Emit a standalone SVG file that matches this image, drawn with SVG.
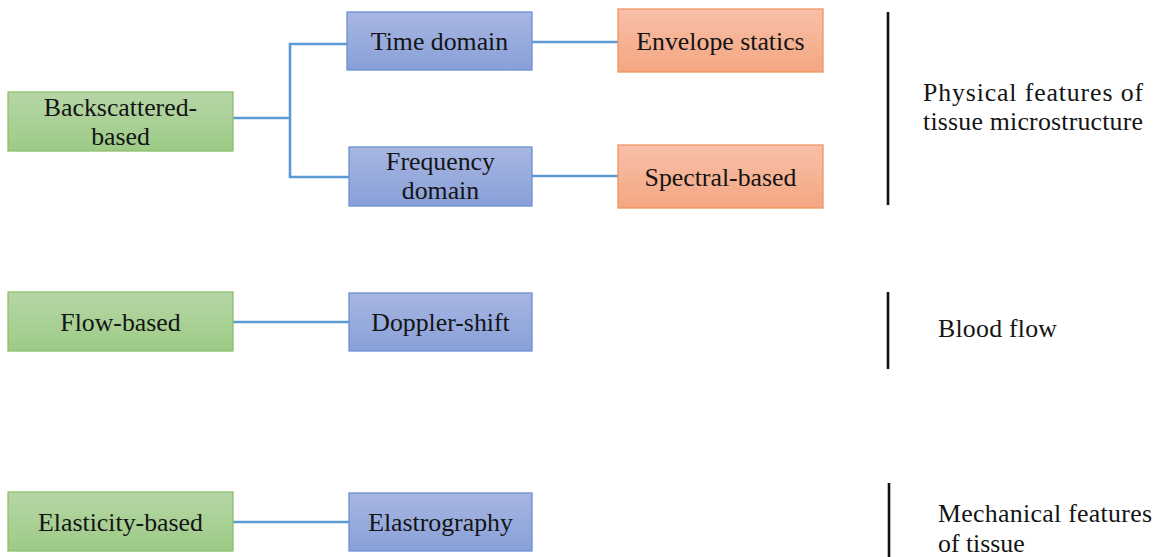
<svg xmlns="http://www.w3.org/2000/svg" width="1158" height="557" viewBox="0 0 1158 557">
  <defs>
    <linearGradient id="gGreen" x1="0" y1="0" x2="0" y2="1">
      <stop offset="0" stop-color="#b6d6a6"/>
      <stop offset="1" stop-color="#9dcb85"/>
    </linearGradient>
    <linearGradient id="gBlue" x1="0" y1="0" x2="0" y2="1">
      <stop offset="0" stop-color="#a8b6e2"/>
      <stop offset="1" stop-color="#88a0d8"/>
    </linearGradient>
    <linearGradient id="gOrange" x1="0" y1="0" x2="0" y2="1">
      <stop offset="0" stop-color="#f8c0a8"/>
      <stop offset="1" stop-color="#f4a682"/>
    </linearGradient>
    <style>
      .green { fill: url(#gGreen); stroke: #8dbf6c; stroke-width: 1.3; }
      .blue { fill: url(#gBlue); stroke: #6a8fd2; stroke-width: 1.3; }
      .orange { fill: url(#gOrange); stroke: #f0955f; stroke-width: 1.3; }
      text { font-family: 'Liberation Serif', Tinos, 'Times New Roman', 'DejaVu Serif', serif; font-size: 25.8px; fill: #141414; }
      .lbl { text-anchor: middle; }
      .conn { fill: none; stroke: #5b9bd5; stroke-width: 2.6; }
      .bar { stroke: #111; stroke-width: 2.6; }
    </style>
  </defs>
  <rect width="1158" height="557" fill="#ffffff"/>

  <!-- connectors -->
  <g id="connectors">
    <path class="conn" d="M233 118 H290"/>
    <path class="conn" d="M347 44 H290 V177 H349"/>
    <path class="conn" d="M532 42 H618"/>
    <path class="conn" d="M532 176 H618"/>
    <path class="conn" d="M233 322 H349"/>
    <path class="conn" d="M233 522 H349"/>
  </g>

  <!-- category nodes -->
  <g id="backscattered">
    <rect class="green" x="8" y="92" width="225" height="59"/>
    <text class="lbl" x="120.5" y="116">Backscattered-</text>
    <text class="lbl" x="120.5" y="145">based</text>
  </g>
  <g id="flow">
    <rect class="green" x="8" y="292" width="225" height="59"/>
    <text class="lbl" x="120.5" y="331">Flow-based</text>
  </g>
  <g id="elasticity">
    <rect class="green" x="8" y="492" width="225" height="59"/>
    <text class="lbl" x="120.5" y="531">Elasticity-based</text>
  </g>

  <!-- method nodes -->
  <g id="time-domain">
    <rect class="blue" x="347" y="12" width="185" height="58"/>
    <text class="lbl" x="439.5" y="50">Time domain</text>
  </g>
  <g id="frequency-domain">
    <rect class="blue" x="349" y="147" width="183" height="59"/>
    <text class="lbl" x="440.5" y="170">Frequency</text>
    <text class="lbl" x="440.5" y="199">domain</text>
  </g>
  <g id="doppler">
    <rect class="blue" x="349" y="293" width="183" height="58"/>
    <text class="lbl" x="440.5" y="331">Doppler-shift</text>
  </g>
  <g id="elastrography">
    <rect class="blue" x="349" y="493" width="183" height="58"/>
    <text class="lbl" x="440.5" y="531">Elastrography</text>
  </g>

  <!-- feature nodes -->
  <g id="envelope">
    <rect class="orange" x="618" y="9" width="205" height="63"/>
    <text class="lbl" x="720.5" y="50">Envelope statics</text>
  </g>
  <g id="spectral">
    <rect class="orange" x="618" y="145" width="205" height="63"/>
    <text class="lbl" x="720.5" y="186">Spectral-based</text>
  </g>

  <!-- side annotations -->
  <g id="physical-note">
    <line class="bar" x1="888" y1="12" x2="888" y2="205"/>
    <text x="923" y="101" textLength="220" lengthAdjust="spacing">Physical features of</text>
    <text x="923" y="130" textLength="220" lengthAdjust="spacing">tissue microstructure</text>
  </g>
  <g id="blood-note">
    <line class="bar" x1="888" y1="292" x2="888" y2="369"/>
    <text x="938" y="337" textLength="119" lengthAdjust="spacing">Blood flow</text>
  </g>
  <g id="mechanical-note">
    <line class="bar" x1="889" y1="483" x2="889" y2="557"/>
    <text x="938" y="522" textLength="214" lengthAdjust="spacing">Mechanical features</text>
    <text x="938" y="552">of tissue</text>
  </g>
</svg>
